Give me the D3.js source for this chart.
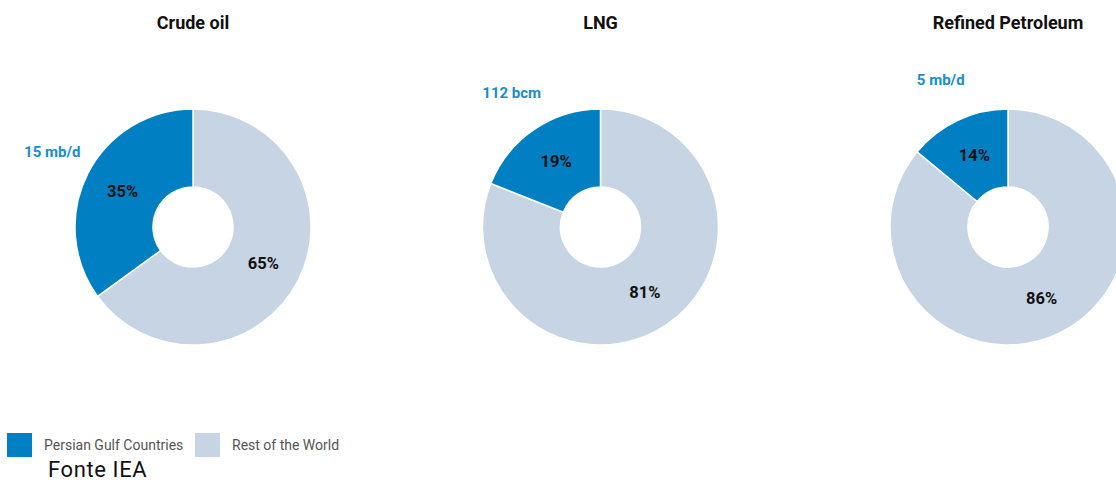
<!DOCTYPE html>
<html><head><meta charset="utf-8">
<script src="https://cdn.jsdelivr.net/npm/d3@7"></script>
<style>
body{margin:0;background:#fff;}
svg{display:block;}
.cond{font-family:"Roboto",sans-serif;}
</style></head>
<body>
<svg id="chart" width="1116" height="484"></svg>
<script>
const charts = ["Crude oil", "LNG", "Refined Petroleum"];
const gulfShare = [35, 19, 14];
const restShare = [65, 81, 86];
const volumeLabels = ["15 mb/d", "112 bcm", "5 mb/d"];
const seriesNames = ["Persian Gulf Countries", "Rest of the World"];
const colors = {"Persian Gulf Countries": "#0080c3", "Rest of the World": "#c6d4e4"};

const svg = d3.select("#chart");
const cx = d3.scalePoint().domain(charts).range([193, 1008]);
const cy = 227, outerR = 118, innerR = 40;

const pie = d3.pie().sort(null).value(d => d.value);
const arc = d3.arc().innerRadius(innerR).outerRadius(outerR);
const labelArc = d3.arc().innerRadius(innerR).outerRadius(outerR);

charts.forEach((name, i) => {
  const data = [
    {series: "Rest of the World", value: restShare[i]},
    {series: "Persian Gulf Countries", value: gulfShare[i]}
  ];
  const g = svg.append("g").attr("transform", `translate(${cx(name)},${cy})`);
  const arcs = pie(data);
  g.selectAll("path").data(arcs).join("path")
    .attr("d", arc)
    .attr("fill", d => colors[d.data.series])
    .attr("stroke", "#fff").attr("stroke-width", 1.5);
  g.selectAll("text.pct").data(arcs).join("text")
    .attr("class", "pct cond")
    .attr("transform", d => `translate(${labelArc.centroid(d)})`)
    .attr("text-anchor", "middle").attr("dy", "0.35em")
    .attr("font-size", 16.5).attr("font-weight", "bold").attr("fill", "#111")
    .text(d => d.data.value + "%");
  const gs = arcs[1];
  const mid = (gs.startAngle + gs.endAngle) / 2;
  const r = 158;
  g.append("text").attr("class", "cond")
    .attr("x", r * Math.sin(mid)).attr("y", -r * Math.cos(mid) - 4)
    .attr("text-anchor", "middle").attr("dy", "0.35em")
    .attr("font-size", 15).attr("font-weight", "bold").attr("fill", "#1a8ccc")
    .text(volumeLabels[i]);
  svg.append("text").attr("class", "cond")
    .attr("x", cx(name)).attr("y", 23).attr("dy", "0.35em")
    .attr("text-anchor", "middle").attr("font-size", 18).attr("font-weight", "bold")
    .attr("fill", "#111").text(name);
});

const legend = svg.append("g");
const lx = [7, 195];
seriesNames.forEach((s, i) => {
  legend.append("rect").attr("x", lx[i]).attr("y", 433).attr("width", 25).attr("height", 24)
    .attr("fill", colors[s]);
  legend.append("text").attr("class", "cond").attr("x", lx[i] + 37).attr("y", 445).attr("dy", "0.35em")
    .attr("font-size", 14).attr("fill", "#555").text(s);
});
svg.append("text").attr("x", 48).attr("y", 477)
  .attr("font-family", "Roboto, sans-serif").attr("font-size", 22).attr("letter-spacing", 0.6).attr("fill", "#111")
  .text("Fonte IEA");
</script>
</body></html>
